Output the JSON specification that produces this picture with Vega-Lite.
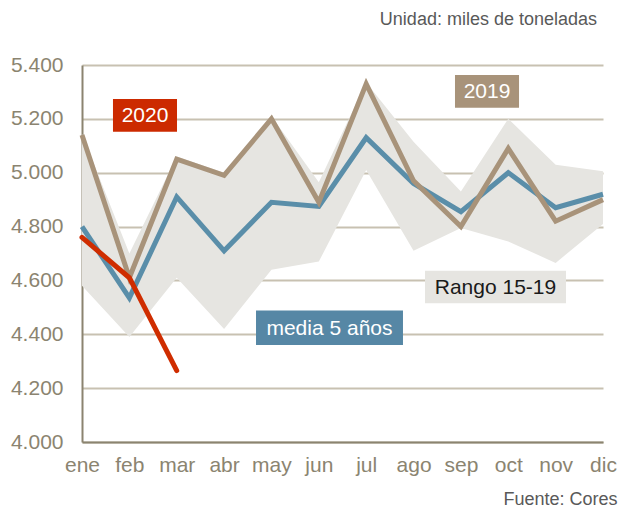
{
  "$schema": "https://vega.github.io/schema/vega-lite/v6.json",
  "width": 521,
  "height": 377,
  "autosize": {"type": "none"},
  "padding": {"left": 82, "top": 65, "right": 16, "bottom": 67},
  "background": "white",
  "config": {
    "font": "Liberation Sans",
    "view": {"stroke": null},
    "title": {"font": "Liberation Sans", "fontWeight": "normal"}
  },
  "title": {
    "text": "Unidad: miles de toneladas",
    "anchor": "end",
    "frame": "group",
    "fontSize": 18,
    "color": "#595959",
    "offset": 25,
    "dx": -6
  },
  "datasets": {
    "band": [
      {"m": 1, "lo": 4580, "hi": 5145},
      {"m": 2, "lo": 4390, "hi": 4700},
      {"m": 3, "lo": 4610, "hi": 5060},
      {"m": 4, "lo": 4420, "hi": 5000},
      {"m": 5, "lo": 4640, "hi": 5210},
      {"m": 6, "lo": 4670, "hi": 4965},
      {"m": 7, "lo": 5010, "hi": 5335},
      {"m": 8, "lo": 4710, "hi": 5115},
      {"m": 9, "lo": 4795, "hi": 4930},
      {"m": 10, "lo": 4745, "hi": 5200},
      {"m": 11, "lo": 4665, "hi": 5030},
      {"m": 12, "lo": 4810, "hi": 5005}
    ],
    "series": [
      {"m": 1, "serie": "media 5 años", "v": 4800},
      {"m": 2, "serie": "media 5 años", "v": 4535},
      {"m": 3, "serie": "media 5 años", "v": 4910},
      {"m": 4, "serie": "media 5 años", "v": 4710},
      {"m": 5, "serie": "media 5 años", "v": 4890},
      {"m": 6, "serie": "media 5 años", "v": 4875},
      {"m": 7, "serie": "media 5 años", "v": 5130},
      {"m": 8, "serie": "media 5 años", "v": 4960},
      {"m": 9, "serie": "media 5 años", "v": 4855},
      {"m": 10, "serie": "media 5 años", "v": 5000},
      {"m": 11, "serie": "media 5 años", "v": 4870},
      {"m": 12, "serie": "media 5 años", "v": 4920},
      {"m": 1, "serie": "2019", "v": 5140},
      {"m": 2, "serie": "2019", "v": 4610},
      {"m": 3, "serie": "2019", "v": 5050},
      {"m": 4, "serie": "2019", "v": 4990},
      {"m": 5, "serie": "2019", "v": 5200},
      {"m": 6, "serie": "2019", "v": 4890},
      {"m": 7, "serie": "2019", "v": 5330},
      {"m": 8, "serie": "2019", "v": 4970},
      {"m": 9, "serie": "2019", "v": 4800},
      {"m": 10, "serie": "2019", "v": 5090},
      {"m": 11, "serie": "2019", "v": 4820},
      {"m": 12, "serie": "2019", "v": 4900},
      {"m": 1, "serie": "2020", "v": 4760},
      {"m": 2, "serie": "2020", "v": 4610},
      {"m": 3, "serie": "2020", "v": 4265}
    ],
    "labels": [
      {"label": "2020", "x1": 1.654, "x2": 3.006, "y1": 5152, "y2": 5274, "tx": 2.33, "ty": 5213},
      {"label": "2019", "x1": 8.875, "x2": 10.227, "y1": 5241, "y2": 5363, "tx": 9.551, "ty": 5302},
      {"label": "media 5 años", "x1": 4.674, "x2": 7.777, "y1": 4360, "y2": 4488, "tx": 6.225, "ty": 4424},
      {"label": "Rango 15-19", "x1": 8.242, "x2": 11.219, "y1": 4515, "y2": 4636, "tx": 9.73, "ty": 4576}
    ]
  },
  "layer": [
    {
      "data": {"name": "band"},
      "mark": {"type": "area", "color": "#e6e5e1", "opacity": 1},
      "encoding": {
        "x": {
          "field": "m",
          "type": "quantitative",
          "scale": {"domain": [1, 12], "nice": false, "zero": false},
          "axis": {
            "values": [1, 2, 3, 4, 5, 6, 7, 8, 9, 10, 11, 12],
            "labelExpr": "['ene','feb','mar','abr','may','jun','jul','ago','sep','oct','nov','dic'][datum.value - 1]",
            "grid": false,
            "ticks": false,
            "domainColor": "#8b8470",
            "domainWidth": 2,
            "labelColor": "#8b8470",
            "labelFontSize": 21,
            "labelPadding": 12,
            "labelFlush": false,
            "labelOverlap": false,
            "title": "Fuente: Cores",
            "titleFontSize": 18,
            "titleFontWeight": "normal",
            "titleColor": "#595959",
            "titleAnchor": "end",
            "titleAlign": "right",
            "titleBaseline": "alphabetic",
            "titleX": 535,
            "titleY": 62
          }
        },
        "y": {
          "field": "lo",
          "type": "quantitative",
          "scale": {"domain": [4000, 5400], "nice": false, "zero": false},
          "axis": {
            "values": [4000, 4200, 4400, 4600, 4800, 5000, 5200, 5400],
            "labelExpr": "replace(format(datum.value, ','), ',', '.')",
            "grid": true,
            "gridColor": "#c8c1b1",
            "gridWidth": 2,
            "ticks": false,
            "domainColor": "#8b8470",
            "domainWidth": 2,
            "labelColor": "#8b8470",
            "labelFontSize": 21,
            "labelPadding": 19,
            "title": null
          }
        },
        "y2": {"field": "hi"}
      }
    },
    {
      "data": {"name": "series"},
      "transform": [{"filter": "datum.serie === 'media 5 años'"}],
      "mark": {"type": "line", "color": "#5a8ea9", "strokeWidth": 5, "strokeJoin": "miter"},
      "encoding": {
        "x": {"field": "m", "type": "quantitative"},
        "y": {"field": "v", "type": "quantitative"}
      }
    },
    {
      "data": {"name": "series"},
      "transform": [{"filter": "datum.serie === '2019'"}],
      "mark": {"type": "line", "color": "#a8937a", "strokeWidth": 5, "strokeJoin": "miter"},
      "encoding": {
        "x": {"field": "m", "type": "quantitative"},
        "y": {"field": "v", "type": "quantitative"}
      }
    },
    {
      "data": {"name": "series"},
      "transform": [{"filter": "datum.serie === '2020'"}],
      "mark": {"type": "line", "color": "#cf2d00", "strokeWidth": 5, "strokeCap": "round", "strokeJoin": "round"},
      "encoding": {
        "x": {"field": "m", "type": "quantitative"},
        "y": {"field": "v", "type": "quantitative"}
      }
    },
    {
      "data": {"name": "labels"},
      "mark": {"type": "rect"},
      "encoding": {
        "x": {"field": "x1", "type": "quantitative"},
        "x2": {"field": "x2"},
        "y": {"field": "y1", "type": "quantitative"},
        "y2": {"field": "y2"},
        "color": {
          "field": "label",
          "type": "nominal",
          "legend": null,
          "scale": {
            "domain": ["2020", "2019", "media 5 años", "Rango 15-19"],
            "range": ["#cc2a00", "#a8937a", "#5687a5", "#e6e5e1"]
          }
        }
      }
    },
    {
      "data": {"name": "labels"},
      "mark": {"type": "text", "fontSize": 21, "align": "center", "baseline": "middle", "dy": 1},
      "encoding": {
        "x": {"field": "tx", "type": "quantitative"},
        "y": {"field": "ty", "type": "quantitative"},
        "text": {"field": "label"},
        "fill": {
          "field": "label",
          "type": "nominal",
          "legend": null,
          "scale": {
            "domain": ["2020", "2019", "media 5 años", "Rango 15-19"],
            "range": ["#ffffff", "#ffffff", "#ffffff", "#1a1a1a"]
          }
        }
      }
    }
  ]
}
